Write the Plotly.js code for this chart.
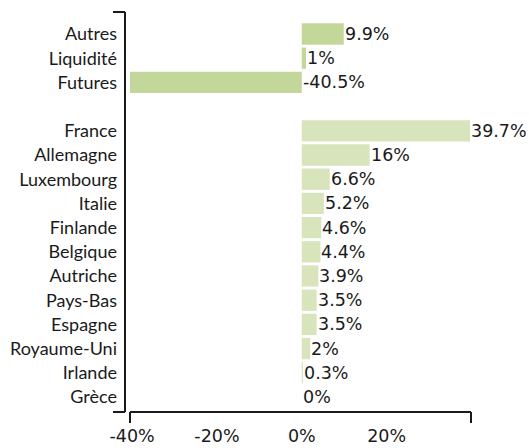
<!DOCTYPE html>
<html><head><meta charset="utf-8">
<script src="https://cdn.plot.ly/plotly-3.0.1.min.js"></script>
<style>html,body{margin:0;padding:0;background:#fff}#c{width:529px;height:448px}</style>
</head><body><div id="c"></div>
<script>
const categories = ["Autres","Liquidité","Futures","","France","Allemagne","Luxembourg","Italie","Finlande","Belgique","Autriche","Pays-Bas","Espagne","Royaume-Uni","Irlande","Grèce"];
const values = [9.9, 1, -40.5, null, 39.7, 16, 6.6, 5.2, 4.6, 4.4, 3.9, 3.5, 3.5, 2, 0.3, 0];
const labels = ["9.9%","1%","-40.5%","","39.7%","16%","6.6%","5.2%","4.6%","4.4%","3.9%","3.5%","3.5%","2%","0.3%","0%"];
const xTicks = [-40, -20, 0, 20];
const xTickText = ["-40%","-20%","0%","20%"];

const idx = categories.map((c,i)=>i);
const colors = idx.map(i => i < 3 ? "#c4d79b" : "#d8e4bc");
const FONT = "Lato, 'Open Sans', sans-serif";
const NFONT = "'DejaVu Sans', sans-serif";

const trace = {
  type: "bar", orientation: "h",
  x: values, y: idx, width: 0.88,
  marker: {color: colors, line: {width: 0}},
  hoverinfo: "skip"
};

const annotations = idx.filter(i => values[i] !== null).map(i => ({
  x: Math.max(values[i], 0), y: i, xref: "x", yref: "y",
  text: labels[i], showarrow: false, xanchor: "left", yanchor: "middle",
  xshift: -1,
  font: {family: NFONT, size: 17.5, color: "#1a1a1a"}
}));

const lc = "#1a1a1a";
const shapes = [
  {type:"line", xref:"paper", yref:"paper", xsizemode:"pixel", xanchor:0, x0:-5, x1:-5, y0:0, y1:1, line:{color:lc, width:2}},
  {type:"line", xref:"paper", yref:"paper", xsizemode:"pixel", xanchor:0, x0:-17, x1:-5, y0:1, y1:1, line:{color:lc, width:2}},
  {type:"line", xref:"paper", yref:"paper", xsizemode:"pixel", xanchor:0, x0:-17, x1:-5, y0:0, y1:0, line:{color:lc, width:2}},
  {type:"line", xref:"paper", yref:"paper", x0:0, x1:1, y0:0, y1:0, line:{color:lc, width:2}},
  {type:"line", xref:"paper", yref:"paper", ysizemode:"pixel", yanchor:0, x0:0, x1:0, y0:0, y1:-11, line:{color:lc, width:2}},
  {type:"line", xref:"paper", yref:"paper", ysizemode:"pixel", yanchor:0, x0:1, x1:1, y0:0, y1:-11, line:{color:lc, width:2}}
];

const layout = {
  width: 529, height: 448,
  margin: {l:130, r:58, t:12, b:36, pad:0},
  paper_bgcolor: "#fff", plot_bgcolor: "#fff",
  showlegend: false,
  xaxis: {range: [-40.5, 39.9], tickvals: xTicks, ticktext: xTickText, showgrid: false, zeroline: false, showline: false, ticks: "", ticklabelstandoff: 11, tickfont: {family: NFONT, size: 17.5, color: "#1a1a1a"}, fixedrange: true},
  yaxis: {range: [15.62, -0.909], tickvals: idx, ticktext: categories, showgrid: false, zeroline: false, showline: false, ticks: "", ticklabelstandoff: 12, tickfont: {family: FONT, size: 18, color: "#1a1a1a"}, fixedrange: true},
  annotations: annotations,
  shapes: shapes
};

Plotly.newPlot("c", [trace], layout, {staticPlot: true, displayModeBar: false});
</script>
</body></html>
